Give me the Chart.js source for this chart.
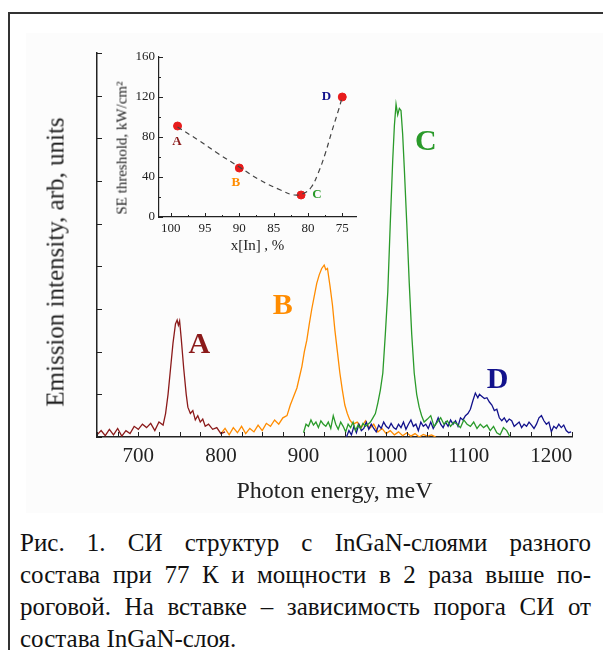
<!DOCTYPE html>
<html>
<head>
<meta charset="utf-8">
<script src="https://cdn.jsdelivr.net/npm/chart.js@4.4.0/dist/chart.umd.min.js"></script>
<style>
body{margin:0;background:#fff;width:603px;height:650px;overflow:hidden;position:relative;font-family:"Liberation Serif","Times New Roman",serif;color:#222;}
#frame{position:absolute;left:8px;top:12px;width:700px;height:700px;border-left:2px solid #333;border-top:2px solid #333;}
#bg{position:absolute;left:26px;top:33px;width:577px;height:480px;background:#fcfcfc;}
#main{position:absolute;left:0;top:0;}
#inset{position:absolute;left:100px;top:40px;}
.vt{position:absolute;white-space:nowrap;line-height:1;transform:translate(-50%,-50%) rotate(-90deg);}
#ytitle{left:55px;top:262px;font-size:25px;}
#iytitle{left:122px;top:148px;font-size:15px;}
#cap{position:absolute;left:20px;top:527px;width:571px;font-size:25px;line-height:32px;color:#111;}
#cap div{white-space:nowrap;text-align:justify;text-align-last:justify;}
#cap div.last{text-align-last:left;}
</style>
</head>
<body>
<div id="bg"></div>
<div id="frame"></div>
<canvas id="main" width="603" height="520"></canvas>
<canvas id="inset" width="270" height="220"></canvas>
<div class="vt" id="ytitle">Emission intensity, arb, units</div>
<div class="vt" id="iytitle">SE threshold, kW/cm²</div>
<div id="cap">
<div>Рис. 1. СИ структур с InGaN-слоями разного</div>
<div>состава при 77 К и мощности в 2 раза выше по-</div>
<div>роговой. На вставке – зависимость порога СИ от</div>
<div class="last">состава InGaN-слоя.</div>
</div>
<script>
// spectra: photon energy (meV) and intensity (arb. units, 1 = one y tick)
var aE = [650,655,660,665,670,675,680,685,690,695,700,705,710,715,720,725,730,733,736,739,742,745,747,748.5,750,752,755,758,760,763,766,769,772,775,778,781,785,790,795,800,805];
var aI = [0.05,0.15,0.03,0.18,0.05,0.2,0.02,0.15,0.08,0.25,0.18,0.3,0.22,0.32,0.15,0.35,0.28,0.55,1.0,1.6,2.2,2.65,2.74,2.62,2.72,2.3,1.6,1.0,0.7,0.55,0.62,0.4,0.5,0.35,0.42,0.25,0.3,0.18,0.22,0.08,0.12];

var bE = [800,805,810,815,820,825,830,835,840,845,850,855,860,865,870,875,880,884,888,892,895,898,901,904,907,910,913,916,919,922,925,927,929,932,935,938,941,944,947,950,953,956,960,965,970,975,980,985,990,995,1000,1005,1010,1015,1020,1025,1030,1035,1040,1045,1050,1055,1060];
var bI = [0.08,0.2,0.05,0.22,0.1,0.25,0.08,0.2,0.12,0.28,0.15,0.32,0.25,0.4,0.3,0.45,0.5,0.75,0.95,1.15,1.4,1.65,2.0,2.27,2.65,3.0,3.3,3.6,3.8,3.95,4.03,3.92,3.95,3.55,3.1,2.5,2.0,1.5,1.1,0.75,0.55,0.4,0.3,0.35,0.22,0.38,0.2,0.3,0.12,0.2,0.08,0.15,0.05,0.12,0.03,0.1,0.02,0.08,0.0,0.06,0.02,0.05,0.0];

var cE = [900,903,906,909,912,915,918,921,924,927,930,933,936,939,942,945,948,951,954,957,960,963,966,969,972,975,978,981,984,987,990,993,996,999,1002,1005,1008,1010,1012,1014,1016,1018,1020,1022,1025,1028,1031,1034,1037,1040,1043,1046,1050,1054,1058,1062,1066,1070,1074,1078,1082,1086,1090,1094,1098,1102,1106,1110,1114,1118,1122,1126,1130,1134,1138,1142,1146,1150];
var cI = [0.1,0.3,0.25,0.4,0.28,0.35,0.22,0.38,0.3,0.25,0.35,0.2,0.5,0.3,0.18,0.35,0.25,0.12,0.3,0.22,0.35,0.15,0.28,0.2,0.32,0.25,0.3,0.35,0.45,0.55,0.8,1.1,1.5,2.4,3.4,5.0,6.5,7.3,7.8,7.55,7.7,7.65,7.1,6.3,5.0,3.6,2.4,1.5,1.0,0.7,0.5,0.35,0.42,0.5,0.25,0.35,0.45,0.3,0.38,0.25,0.35,0.3,0.22,0.4,0.3,0.25,0.35,0.2,0.3,0.22,0.28,0.15,0.25,0.1,0.05,0.22,0.15,0.0];

var dE = [952,955,958,961,964,967,970,973,976,979,982,985,988,991,994,997,1000,1003,1006,1009,1012,1015,1018,1021,1024,1027,1030,1033,1036,1039,1042,1045,1048,1051,1054,1057,1060,1063,1066,1069,1072,1075,1078,1081,1084,1087,1090,1093,1096,1099,1102,1105,1108,1111,1113,1116,1119,1122,1125,1128,1131,1134,1137,1140,1143,1146,1149,1152,1155,1158,1161,1164,1167,1170,1173,1176,1179,1182,1185,1188,1191,1194,1197,1200,1203,1206,1209,1212,1215,1218,1221,1224];
var dI = [0.0,0.15,0.05,0.25,0.1,0.3,0.15,0.2,0.35,0.18,0.3,0.2,0.12,0.28,0.2,0.35,0.25,0.2,0.32,0.22,0.18,0.3,0.22,0.35,0.18,0.3,0.4,0.25,0.3,0.15,0.35,0.25,0.3,0.2,0.35,0.2,0.3,0.45,0.3,0.22,0.35,0.25,0.4,0.3,0.38,0.25,0.45,0.4,0.5,0.55,0.65,0.85,1.03,0.92,1.0,0.95,0.9,0.92,0.82,0.75,0.62,0.65,0.45,0.38,0.45,0.35,0.42,0.38,0.25,0.3,0.35,0.22,0.3,0.25,0.35,0.28,0.2,0.3,0.45,0.5,0.38,0.3,0.35,0.12,0.25,0.2,0.3,0.22,0.28,0.15,0.1,0.12];

// peak letters on the main plot (energy, intensity)
var mainLabels = ['A', 'B', 'C', 'D'];
var mainLabelE = [774, 875, 1048, 1135];
var mainLabelV = [2.15, 3.07, 6.9, 1.33];
var colors = ['#8b1a1a', '#ff8c00', '#2a9a2a', '#12128c'];

var xTickVals = [650,675,700,725,750,775,800,825,850,875,900,925,950,975,1000,1025,1050,1075,1100,1125,1150,1175,1200,1225];
var xTickLabels = [700, 800, 900, 1000, 1100, 1200];

// inset: SE threshold vs In content
var inX = [99, 90, 81, 75];
var inY = [91, 49, 22, 120];
var fitX = [99, 96, 93, 90, 87, 84, 82, 80.5, 79.5, 78.5, 77.5, 76.5, 75.5, 75];
var fitY = [90, 77, 63, 50, 37, 27, 22, 24, 30, 44, 63, 86, 108, 120];
var inLabelX = [99.1, 90.5, 78.7, 77.3];
var inLabelY = [75, 34, 22, 120];
var inXTickVals = [75,77.5,80,82.5,85,87.5,90,92.5,95,97.5,100];
var inXTickLabels = [75, 80, 85, 90, 95, 100];

Chart.defaults.font.family = "'Liberation Serif', 'Times New Roman', serif";
Chart.defaults.color = '#222';

function pts(xs, ys) {
  var out = [];
  for (var i = 0; i < Math.min(xs.length, ys.length); i++) out.push({x: xs[i], y: ys[i]});
  return out;
}

// tick marks pointing into the plot
var innerTicks = {
  id: 'innerTicks',
  afterDraw: function(chart, args, o) {
    var ctx = chart.ctx, a = chart.chartArea;
    var xs = chart.scales.x, ys = chart.scales.y;
    ctx.save();
    ctx.strokeStyle = '#222';
    ctx.lineWidth = 1;
    xs.ticks.forEach(function(t) {
      var m = Math.abs(t.value / o.xMajor - Math.round(t.value / o.xMajor)) < 1e-6;
      var px = Math.round(xs.getPixelForValue(t.value)) + 0.5;
      ctx.beginPath();
      ctx.moveTo(px, a.bottom);
      ctx.lineTo(px, a.bottom - (m ? o.major : o.minor));
      ctx.stroke();
    });
    ys.ticks.forEach(function(t) {
      var m = Math.abs(t.value / o.yMajor - Math.round(t.value / o.yMajor)) < 1e-6;
      var py = Math.round(ys.getPixelForValue(t.value)) + 0.5;
      ctx.beginPath();
      ctx.moveTo(a.left, py);
      ctx.lineTo(a.left + (m ? o.major : o.minor), py);
      ctx.stroke();
    });
    ctx.restore();
  }
};

// letters placed at data coordinates
var letters = {
  id: 'letters',
  afterDatasetsDraw: function(chart, args, o) {
    var ctx = chart.ctx;
    ctx.save();
    ctx.font = 'bold ' + o.size + "px 'Liberation Serif', serif";
    ctx.textAlign = 'center';
    ctx.textBaseline = 'middle';
    for (var i = 0; i < o.text.length; i++) {
      ctx.fillStyle = colors[i];
      ctx.fillText(o.text[i], chart.scales.x.getPixelForValue(o.xs[i]), chart.scales.y.getPixelForValue(o.ys[i]));
    }
    ctx.restore();
  }
};

new Chart(document.getElementById('main'), {
  type: 'line',
  data: {
    datasets: [
      {label: 'A', data: pts(aE, aI), borderColor: colors[0]},
      {label: 'C', data: pts(cE, cI), borderColor: colors[2]},
      {label: 'D', data: pts(dE, dI), borderColor: colors[3]},
      {label: 'B', data: pts(bE, bI), borderColor: colors[1]}
    ]
  },
  options: {
    responsive: false,
    animation: false,
    layout: {padding: {top: 53, right: 31, left: 0, bottom: 0}},
    elements: {line: {borderWidth: 1.3, tension: 0}, point: {radius: 0}},
    plugins: {
      legend: {display: false},
      tooltip: {enabled: false},
      innerTicks: {xMajor: 100, yMajor: 1, major: 5, minor: 5},
      letters: {text: mainLabels, xs: mainLabelE, ys: mainLabelV, size: 30}
    },
    scales: {
      x: {
        type: 'linear', min: 650, max: 1225,
        grid: {display: false, drawTicks: false},
        border: {display: true, color: '#222', width: 1.5},
        afterBuildTicks: function(s) { s.ticks = xTickVals.map(function(v) { return {value: v}; }); },
        ticks: {
          autoSkip: false, maxRotation: 0, padding: 7,
          font: {size: 21}, color: '#222',
          callback: function(v) { return xTickLabels.indexOf(v) >= 0 ? v : ''; }
        },
        title: {display: true, text: 'Photon energy, meV', font: {size: 24}, color: '#222', padding: {top: 0, bottom: 14}},
        afterFit: function(s) { s.height = 83; }
      },
      y: {
        min: 0, max: 9,
        grid: {display: false, drawTicks: false},
        border: {display: true, color: '#222', width: 1.5},
        ticks: {stepSize: 1, display: false},
        afterFit: function(s) { s.width = 97; }
      }
    }
  },
  plugins: [innerTicks, letters]
});

new Chart(document.getElementById('inset'), {
  type: 'scatter',
  data: {
    datasets: [
      {label: 'fit', data: pts(fitX, fitY), showLine: true, borderColor: '#444', borderWidth: 1.2,
       borderDash: [5, 4], tension: 0.4, pointRadius: 0},
      {label: 'threshold', data: pts(inX, inY), backgroundColor: '#e81c1c', borderColor: '#e81c1c', pointRadius: 4}
    ]
  },
  options: {
    responsive: false,
    animation: false,
    layout: {padding: {top: 17, right: 14, left: 0, bottom: 0}},
    plugins: {
      legend: {display: false},
      tooltip: {enabled: false},
      innerTicks: {xMajor: 5, yMajor: 40, major: 4, minor: 2},
      letters: {text: mainLabels, xs: inLabelX, ys: inLabelY, size: 13}
    },
    scales: {
      x: {
        type: 'linear', min: 73, max: 101.7, reverse: true,
        grid: {display: false, drawTicks: false},
        border: {display: true, color: '#222', width: 1.2},
        afterBuildTicks: function(s) { s.ticks = inXTickVals.map(function(v) { return {value: v}; }); },
        ticks: {
          autoSkip: false, maxRotation: 0, padding: 4,
          font: {size: 13}, color: '#222',
          callback: function(v) { return inXTickLabels.indexOf(v) >= 0 ? v : ''; }
        },
        title: {display: true, text: 'x[In] , %', font: {size: 15}, color: '#222', padding: {top: 0, bottom: 5}},
        afterFit: function(s) { s.height = 43; }
      },
      y: {
        min: 0, max: 160,
        grid: {display: false, drawTicks: false},
        border: {display: true, color: '#222', width: 1.2},
        ticks: {
          stepSize: 20, autoSkip: false, padding: 4,
          font: {size: 13}, color: '#222',
          callback: function(v) { return (v % 40 === 0) ? v : ''; }
        },
        afterFit: function(s) { s.width = 59; }
      }
    }
  },
  plugins: [innerTicks, letters]
});
</script>
</body>
</html>
